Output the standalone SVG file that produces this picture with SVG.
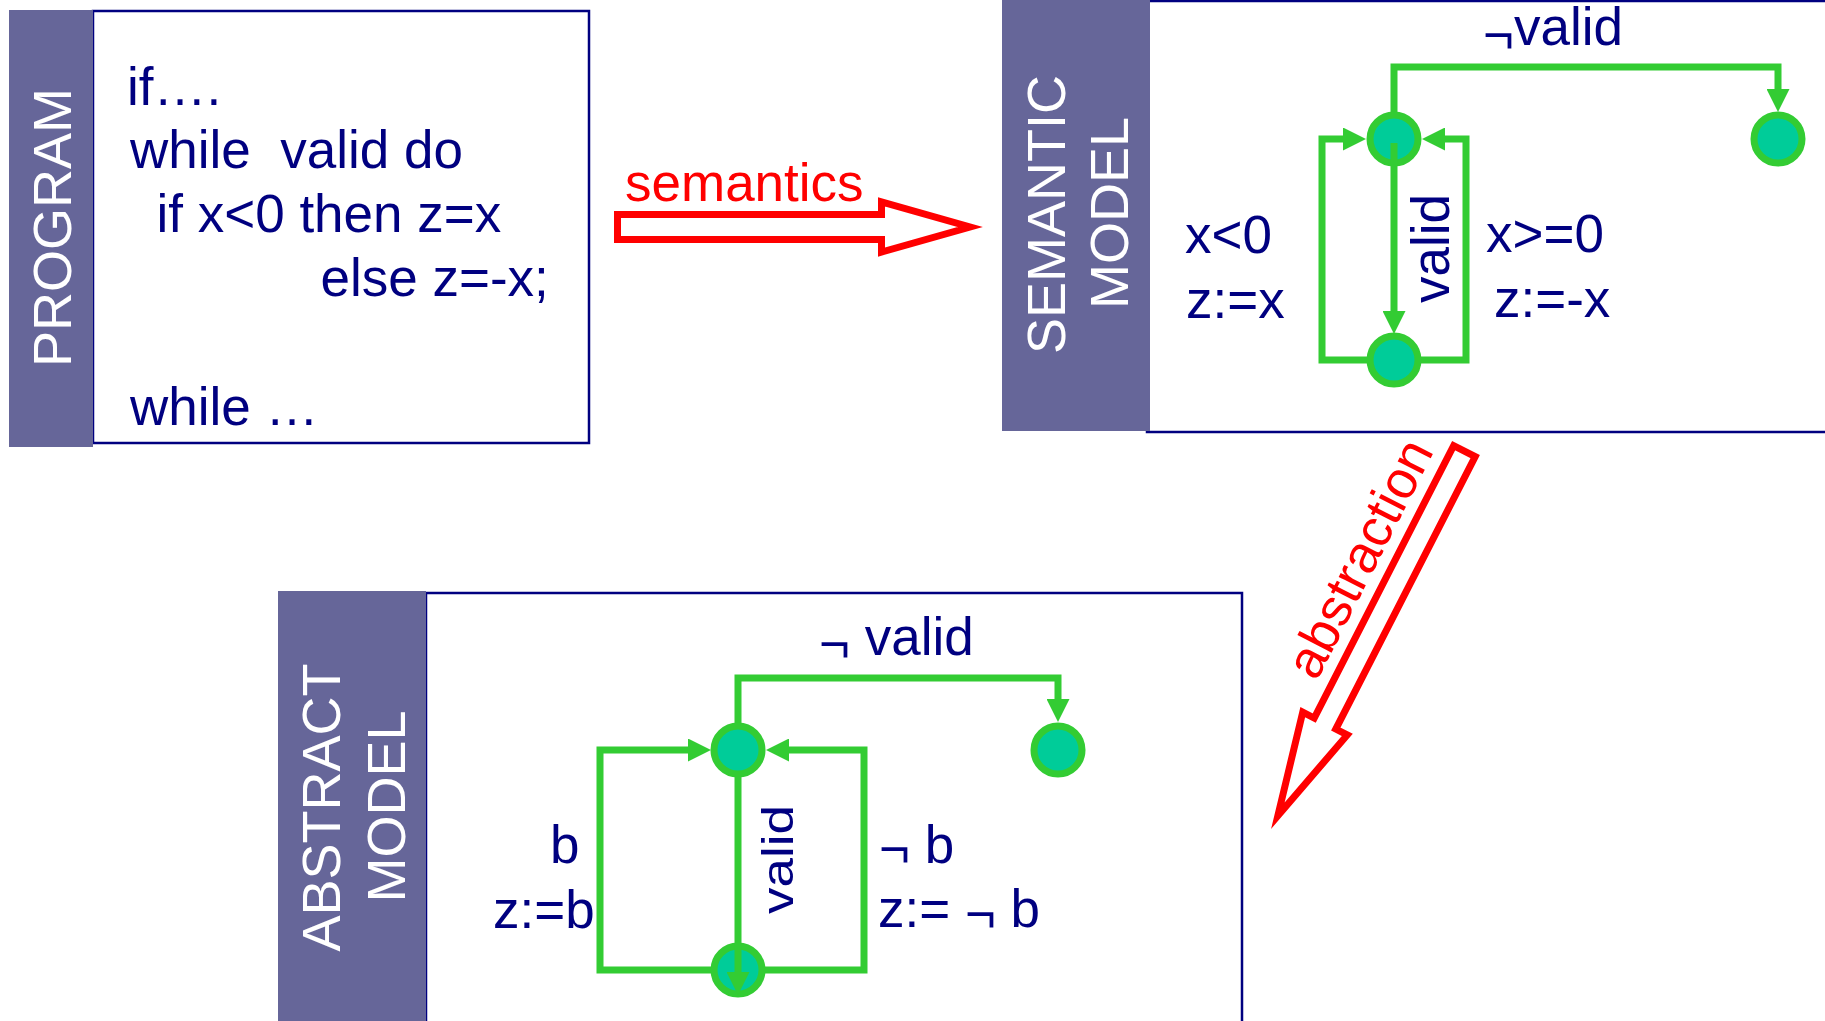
<svg xmlns="http://www.w3.org/2000/svg" width="1825" height="1021" viewBox="0 0 1825 1021">
<defs>
<style>
text{font-family:"Liberation Sans",Arial,sans-serif;font-size:53px;white-space:pre}
.t{fill:#000080}
.lbl{fill:#ffffff;font-size:54px}
.red{fill:#ff0000}
.box{fill:#ffffff;stroke:#000080;stroke-width:2.5}
.bar{fill:#666699}
.st{fill:#00cc99;stroke:#33cc33;stroke-width:7}
.edge{fill:none;stroke:#33cc33;stroke-width:7}
.big{fill:#ffffff;stroke:#ff0000;stroke-width:7;stroke-miterlimit:10}
</style>
<marker id="ah" viewBox="0 0 23 23" markerUnits="userSpaceOnUse" markerWidth="23" markerHeight="23" refX="0" refY="11.5" orient="auto">
<path d="M0,0 L23,11.5 L0,23 Z" fill="#33cc33"/>
</marker>
</defs>
<rect width="1825" height="1021" fill="#ffffff"/>

<g id="program">
<rect class="box" x="93" y="11" width="496" height="432"/>
<rect class="bar" x="9" y="10" width="84" height="437"/>
<text class="lbl" transform="translate(71,227.5) rotate(-90)" text-anchor="middle">PROGRAM</text>
<text class="t" x="127" y="105">if….</text>
<text class="t" x="130" y="168">while  valid do</text>
<text class="t" x="156.5" y="232">if x&lt;0 then z=x</text>
<text class="t" x="320.5" y="296">else z=-x;</text>
<text class="t" x="130" y="425">while …</text>
</g>

<g id="semantic-model">
<rect class="box" x="1147" y="1" width="700" height="431"/>
<rect class="bar" x="1002" y="0" width="148" height="431"/>
<text class="lbl" transform="translate(1065,214.5) rotate(-90)" text-anchor="middle">SEMANTIC</text>
<text class="lbl" transform="translate(1128,213) rotate(-90)" text-anchor="middle">MODEL</text>
</g>

<g id="abstract-model">
<rect class="box" x="426" y="593" width="816" height="440"/>
<rect class="bar" x="278" y="591" width="148" height="440"/>
<text class="lbl" transform="translate(340,807.5) rotate(-90)" text-anchor="middle">ABSTRACT</text>
<text class="lbl" transform="translate(405,806.5) rotate(-90)" text-anchor="middle">MODEL</text>
</g>

<g id="connectors">
<g id="semantics-arrow">
<polygon class="big" points="617.5,214.5 881.5,214.5 881.5,202 970,227 881.5,252 881.5,239.5 617.5,239.5"/>
<text class="red" x="625" y="201">semantics</text>
</g>
<g id="abstraction-arrow">
<polygon class="big" transform="translate(1466,448) rotate(117.1)" points="3.5,-12.1 309.5,-12.1 309.5,-25 413,0 309.5,25 309.5,12.1 3.5,12.1"/>
<text class="red" transform="translate(1375.5,566.5) rotate(-62.9)" text-anchor="middle">abstraction</text>
</g>
<g id="semantic-edges">
<path class="edge" d="M1394,120 V67 H1778 V89" marker-end="url(#ah)"/>
<path class="edge" d="M1370,360 H1322 V139 H1343" marker-end="url(#ah)"/>
<path class="edge" d="M1418,360 H1466 V139 H1445" marker-end="url(#ah)"/>
</g>
<g id="abstract-edges">
<path class="edge" d="M738,725 V678 H1058 V699" marker-end="url(#ah)"/>
<path class="edge" d="M714,970 H600 V750 H688" marker-end="url(#ah)"/>
<path class="edge" d="M762,970 H864 V750 H789" marker-end="url(#ah)"/>
</g>
</g>

<g id="s-init"><circle class="st" cx="1394" cy="139" r="24"/></g>
<g id="s-exit"><circle class="st" cx="1778" cy="139" r="24"/></g>
<g id="s-body"><circle class="st" cx="1394" cy="360" r="24"/></g>
<g id="a-init"><circle class="st" cx="738" cy="750" r="24"/></g>
<g id="a-exit"><circle class="st" cx="1058" cy="750" r="24"/></g>
<g id="a-body"><circle class="st" cx="738" cy="970" r="24"/></g>

<g id="connectors-valid">
<path class="edge" d="M1394,143 V311" marker-end="url(#ah)"/>
<path class="edge" d="M738,777 V972" marker-end="url(#ah)"/>
</g>

<g id="semantic-labels">
<text class="t" x="1483" y="45"><tspan dy="8">¬</tspan><tspan dy="-8">valid</tspan></text>
<text class="t" x="1185" y="253">x&lt;0</text>
<text class="t" x="1186" y="318">z:=x</text>
<text class="t" x="1486" y="252">x&gt;=0</text>
<text class="t" x="1494" y="317">z:=-x</text>
<text class="t" transform="translate(1449,248.5) rotate(-90)" text-anchor="middle">valid</text>
</g>
<g id="abstract-labels">
<text class="t" x="819" y="655"><tspan dy="7">¬</tspan><tspan dy="-7"> valid</tspan></text>
<text class="t" x="550" y="863">b</text>
<text class="t" x="493" y="928">z:=b</text>
<text class="t" x="879" y="863"><tspan dy="4">¬</tspan><tspan dy="-4"> b</tspan></text>
<text class="t" x="878" y="927">z:= <tspan dy="5">¬</tspan><tspan dy="-5"> b</tspan></text>
<text class="t" transform="translate(793,859.5) rotate(-90) scale(1,0.85)" text-anchor="middle">valid</text>
</g>
</svg>
